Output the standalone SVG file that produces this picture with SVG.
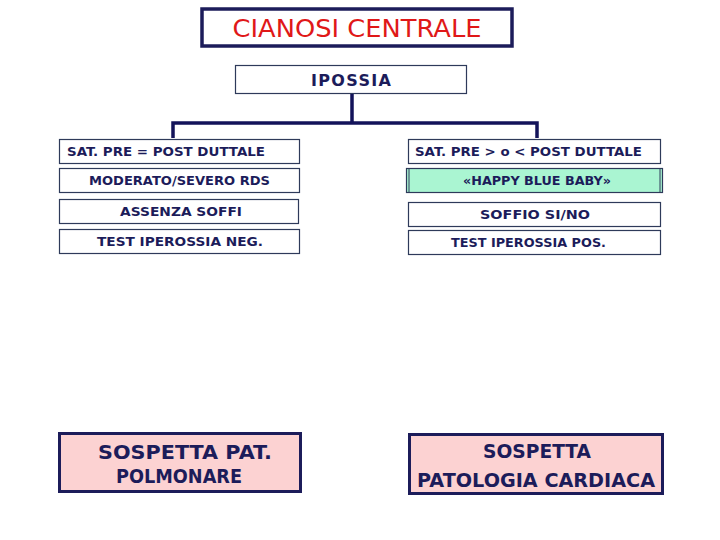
<svg xmlns="http://www.w3.org/2000/svg" width="720" height="540" viewBox="0 0 720 540">
<style>
.t{font-family:"DejaVu Sans","Liberation Sans",sans-serif;fill:#1c1c5a;text-anchor:middle;font-weight:bold}
.s{font-size:13px}
.L{font-size:20px}
.b{fill:#fff;stroke:#2e3a5a;stroke-width:1.2}
.p{fill:#fcd2d2;stroke:#1c1c5a;stroke-width:3}
.c{fill:none;stroke:#13135a;stroke-width:3.5}
</style>
<rect width="720" height="540" fill="#fff"/>
<g id="title">
<rect x="202" y="9" width="310" height="37" fill="#fff" stroke="#1c1c5a" stroke-width="3.5"/>
<text x="357" y="37" class="t" style="fill:#e01818;font-size:24px;font-weight:normal" textLength="249" lengthAdjust="spacingAndGlyphs">CIANOSI CENTRALE</text>
</g>
<g id="ipossia">
<rect x="235.5" y="65.5" width="231" height="28" class="b"/>
<text x="351" y="86" class="t" style="font-size:16px" textLength="80" lengthAdjust="spacing">IPOSSIA</text>
</g>
<g id="connectors">
<path class="c" d="M352 94V123M173 138V123H537V138"/>
</g>
<g id="left-sat">
<rect x="59.5" y="139.5" width="240" height="24" class="b"/>
<text x="166" y="156" class="t s" textLength="198" lengthAdjust="spacingAndGlyphs">SAT. PRE = POST DUTTALE</text>
</g>
<g id="left-rds">
<rect x="59.5" y="168.5" width="240" height="24" class="b"/>
<text x="179.5" y="185" class="t s" textLength="181" lengthAdjust="spacingAndGlyphs">MODERATO/SEVERO RDS</text>
</g>
<g id="left-soffi">
<rect x="59.5" y="199.5" width="239" height="24" class="b"/>
<text x="181" y="216" class="t s" textLength="122" lengthAdjust="spacingAndGlyphs">ASSENZA SOFFI</text>
</g>
<g id="left-test">
<rect x="59.5" y="229.5" width="240" height="24" class="b"/>
<text x="180" y="246" class="t s" textLength="166" lengthAdjust="spacingAndGlyphs">TEST IPEROSSIA NEG.</text>
</g>
<g id="right-sat">
<rect x="408.5" y="139.5" width="252" height="24" class="b"/>
<text x="528.5" y="156" class="t s" textLength="227" lengthAdjust="spacingAndGlyphs">SAT. PRE &gt; o &lt; POST DUTTALE</text>
</g>
<g id="right-happy">
<rect x="406.5" y="168.5" width="256" height="24" fill="#aaf5d2" stroke="#2e3a5a" stroke-width="1.2"/>
<line x1="409" y1="169" x2="409" y2="192" stroke="#2e3a5a" stroke-width="1"/>
<line x1="660" y1="169" x2="660" y2="192" stroke="#2e3a5a" stroke-width="1"/>
<text x="537" y="185" class="t s" textLength="148" lengthAdjust="spacingAndGlyphs">«HAPPY BLUE BABY»</text>
</g>
<g id="right-soffio">
<rect x="408.5" y="202.5" width="252" height="24" class="b"/>
<text x="535" y="219" class="t s" textLength="110" lengthAdjust="spacingAndGlyphs">SOFFIO SI/NO</text>
</g>
<g id="right-test">
<rect x="408.5" y="230.5" width="252" height="24" class="b"/>
<text x="528.5" y="247" class="t s" textLength="155" lengthAdjust="spacingAndGlyphs">TEST IPEROSSIA POS.</text>
</g>
<g id="polmonare">
<rect x="59.5" y="433.5" width="241" height="58" class="p"/>
<text x="185" y="459" class="t L" textLength="174" lengthAdjust="spacingAndGlyphs">SOSPETTA PAT.</text>
<text x="179" y="483" class="t L" textLength="126" lengthAdjust="spacingAndGlyphs">POLMONARE</text>
</g>
<g id="cardiaca">
<rect x="409.5" y="434.5" width="253" height="59" class="p"/>
<text x="537" y="458" class="t L" textLength="108" lengthAdjust="spacingAndGlyphs">SOSPETTA</text>
<text x="536" y="487" class="t L" textLength="238" lengthAdjust="spacingAndGlyphs">PATOLOGIA CARDIACA</text>
</g>
</svg>
